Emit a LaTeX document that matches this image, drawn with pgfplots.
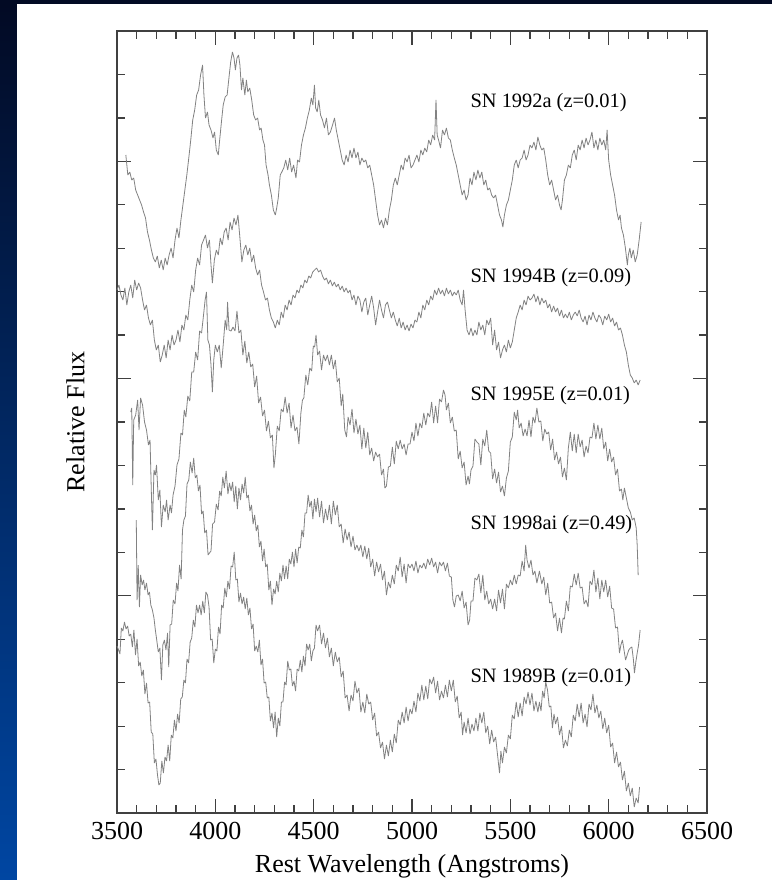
\documentclass[border=0pt]{standalone}
\usepackage{pgfplots}
\pgfplotsset{compat=1.18}
\usepackage{pgfplotstable}
\usepackage{fontspec}
\setmainfont{Liberation Serif}
\definecolor{navytop}{HTML}{020A24}
\definecolor{bluebot}{HTML}{0046A2}
\definecolor{speccol}{HTML}{828282}

\pgfplotstableread{
x y
3545 155
3555 175
3565 172
3575 180
3585 178
3595 190
3605 195
3615 200
3625 205
3635 212
3645 218
3655 232
3665 240
3675 250
3685 258
3695 262
3705 256
3715 268
3725 260
3735 270
3745 258
3755 265
3765 255
3775 248
3785 258
3795 240
3805 228
3815 238
3825 220
3835 205
3845 190
3855 175
3865 158
3875 140
3885 120
3895 110
3905 95
3915 90
3925 75
3935 65
3942 95
3950 118
3960 112
3968 125
3978 130
3988 138
3996 132
4005 150
4015 155
4022 140
4032 120
4040 105
4050 97
4060 95
4068 80
4078 62
4087 52
4095 58
4102 70
4110 58
4118 55
4125 65
4133 90
4140 78
4150 95
4158 80
4165 92
4175 88
4185 100
4195 115
4205 120
4215 118
4225 130
4233 128
4242 140
4250 145
4258 165
4268 175
4275 185
4285 195
4295 210
4305 215
4312 208
4320 198
4330 175
4338 172
4348 168
4358 160
4368 170
4378 158
4388 172
4398 165
4410 178
4418 160
4428 162
4438 145
4448 135
4458 128
4468 118
4478 110
4488 98
4496 105
4504 85
4510 108
4518 112
4526 100
4535 115
4545 120
4555 128
4565 118
4575 135
4585 132
4596 125
4606 118
4615 130
4625 140
4635 150
4645 160
4655 165
4665 155
4675 162
4685 150
4695 158
4705 148
4715 158
4725 152
4735 165
4745 158
4755 162
4765 160
4775 168
4785 165
4795 175
4805 185
4815 200
4825 215
4835 225
4845 220
4855 228
4865 218
4875 225
4885 210
4895 200
4905 185
4915 178
4925 185
4935 175
4945 165
4955 170
4965 158
4975 162
4985 155
4995 168
5005 165
5015 160
5025 155
5035 162
5045 150
5055 155
5065 148
5075 152
5085 140
5095 145
5105 135
5115 140
5122 100
5128 135
5135 140
5145 148
5155 130
5165 135
5175 128
5185 138
5195 140
5205 150
5215 158
5225 165
5235 175
5245 185
5255 195
5265 190
5275 200
5285 195
5295 178
5305 185
5315 172
5325 180
5335 170
5345 178
5355 172
5365 185
5375 180
5385 190
5395 188
5405 195
5415 198
5425 195
5435 205
5445 215
5455 220
5462 227
5470 215
5480 205
5490 200
5500 190
5510 180
5520 165
5530 160
5540 168
5550 160
5560 158
5570 150
5580 160
5590 155
5600 145
5610 148
5620 142
5630 150
5640 137
5650 145
5660 150
5670 148
5680 160
5690 175
5700 185
5710 180
5720 190
5730 200
5740 195
5750 205
5758 210
5765 200
5775 180
5785 175
5795 165
5805 168
5815 155
5825 150
5835 160
5845 145
5855 150
5865 140
5875 148
5885 138
5895 145
5905 140
5915 132
5925 148
5935 140
5945 150
5955 138
5965 145
5975 140
5985 150
5992 130
6000 160
6010 175
6020 185
6030 195
6040 210
6050 220
6058 215
6065 228
6075 235
6085 248
6095 265
6100 255
6108 248
6115 258
6125 250
6135 262
6145 255
6155 240
6165 222
}\snA

\pgfplotstableread{
x y
3500 290
3510 285
3520 295
3530 300
3540 288
3550 305
3560 292
3570 285
3580 298
3590 280
3600 290
3610 283
3620 288
3630 300
3640 310
3650 305
3660 318
3670 325
3680 320
3690 340
3700 350
3710 345
3720 362
3730 355
3740 345
3750 358
3760 340
3770 350
3780 335
3790 345
3800 340
3810 330
3820 342
3830 325
3840 330
3850 315
3860 320
3870 300
3880 285
3890 292
3900 270
3910 258
3920 265
3930 245
3940 240
3950 235
3960 248
3970 240
3978 265
3985 283
3995 260
4005 250
4015 255
4025 238
4035 245
4045 232
4055 228
4065 240
4075 222
4085 230
4095 218
4105 225
4115 215
4125 238
4135 262
4145 250
4155 245
4165 255
4175 248
4185 262
4195 255
4205 268
4215 275
4225 270
4235 285
4245 292
4255 300
4265 298
4275 310
4285 318
4295 322
4305 328
4315 320
4325 325
4335 312
4345 318
4355 305
4365 310
4375 300
4385 305
4395 295
4405 298
4415 290
4425 293
4435 285
4445 288
4455 280
4465 283
4475 276
4485 278
4495 272
4505 270
4515 268
4525 272
4535 270
4545 276
4555 280
4565 278
4575 284
4585 280
4595 286
4605 282
4615 287
4625 284
4635 290
4645 286
4655 292
4665 288
4675 293
4685 290
4695 300
4705 295
4715 305
4725 296
4735 300
4745 312
4755 302
4765 298
4775 315
4785 305
4795 296
4805 308
4815 325
4825 312
4835 300
4845 310
4855 318
4865 305
4875 302
4885 310
4895 318
4905 312
4915 320
4925 326
4935 318
4945 328
4955 322
4965 330
4975 325
4985 331
4995 324
5005 328
5015 320
5025 322
5035 312
5045 318
5055 305
5065 310
5075 300
5085 305
5095 296
5105 300
5115 290
5125 295
5135 288
5145 294
5155 290
5165 296
5175 288
5185 294
5195 290
5205 296
5215 292
5225 295
5235 290
5245 300
5255 305
5262 290
5270 310
5280 330
5290 335
5300 328
5310 336
5320 330
5330 335
5340 322
5350 330
5360 325
5370 335
5380 320
5390 325
5400 318
5410 345
5420 330
5430 350
5440 342
5450 358
5460 350
5470 345
5480 352
5490 340
5500 348
5510 342
5520 330
5530 318
5540 312
5550 305
5560 310
5570 300
5580 305
5590 296
5600 300
5610 298
5620 294
5630 302
5640 296
5650 305
5660 298
5670 303
5680 300
5690 308
5700 304
5710 312
5720 306
5730 312
5740 308
5750 316
5760 310
5770 318
5780 314
5790 318
5800 312
5810 320
5820 315
5830 312
5840 316
5850 310
5860 318
5870 322
5880 316
5890 325
5900 315
5910 320
5920 312
5930 318
5940 322
5950 315
5960 318
5970 325
5980 316
5990 320
6000 314
6010 322
6020 318
6030 326
6040 322
6050 330
6060 328
6070 335
6080 345
6090 352
6100 365
6110 375
6120 378
6130 383
6140 380
6150 385
6160 380
}\snB

\pgfplotstableread{
x y
3570 412
3575 408
3580 485
3585 420
3595 415
3605 400
3612 430
3620 398
3630 405
3640 422
3650 430
3660 445
3668 440
3675 495
3680 530
3688 470
3695 475
3701 465
3710 500
3718 490
3726 527
3735 505
3745 512
3752 500
3760 520
3770 505
3777 513
3785 495
3795 486
3805 465
3815 459
3825 433
3833 435
3842 410
3850 417
3860 396
3870 401
3880 372
3890 372
3900 352
3910 360
3920 331
3930 333
3940 315
3948 300
3955 292
3962 340
3970 345
3978 365
3985 392
3992 360
4000 345
4010 352
4020 345
4030 368
4040 345
4050 320
4058 330
4062 302
4070 330
4080 331
4090 327
4100 331
4110 311
4120 333
4130 330
4140 355
4150 341
4160 363
4170 352
4180 367
4190 364
4200 387
4210 376
4220 403
4230 397
4240 416
4250 410
4260 431
4270 421
4280 438
4290 435
4298 468
4305 455
4315 426
4325 431
4335 409
4345 412
4355 397
4365 413
4375 403
4385 428
4395 415
4405 431
4415 427
4425 444
4435 413
4443 400
4450 398
4460 375
4470 385
4480 368
4490 371
4498 346
4505 347
4512 335
4520 355
4530 351
4540 370
4550 355
4560 361
4570 355
4580 365
4590 355
4600 369
4610 360
4620 382
4630 378
4640 406
4648 394
4658 430
4667 437
4675 417
4685 425
4695 409
4705 433
4715 419
4725 434
4735 425
4745 449
4755 428
4765 448
4775 432
4785 455
4795 448
4805 461
4815 452
4825 457
4835 454
4845 475
4855 469
4862 488
4870 486
4880 467
4890 466
4900 447
4910 464
4920 441
4930 449
4940 440
4950 449
4960 444
4970 455
4980 444
4990 444
5000 432
5010 441
5020 423
5030 436
5040 423
5050 428
5060 413
5070 425
5080 413
5090 417
5100 402
5110 423
5120 406
5130 423
5140 399
5150 402
5160 390
5168 395
5175 410
5185 403
5195 423
5205 417
5215 431
5225 430
5235 459
5245 451
5255 468
5265 462
5275 485
5285 476
5292 484
5300 470
5310 466
5320 439
5330 442
5340 444
5350 465
5360 439
5370 446
5380 430
5390 451
5400 453
5410 479
5420 469
5430 483
5440 472
5450 492
5460 486
5470 496
5480 478
5490 471
5500 442
5510 437
5520 412
5530 420
5537 410
5545 428
5555 423
5565 436
5575 429
5585 436
5595 420
5605 437
5615 417
5625 423
5635 408
5645 422
5655 421
5665 441
5675 429
5685 434
5695 432
5705 450
5715 439
5725 460
5735 452
5745 464
5755 457
5765 477
5775 468
5785 480
5795 448
5805 432
5815 451
5825 434
5835 453
5845 434
5855 447
5865 440
5875 457
5885 446
5895 453
5905 437
5915 438
5925 423
5935 439
5945 425
5955 439
5965 428
5975 449
5985 442
5995 461
6005 449
6015 462
6025 457
6035 475
6045 469
6055 491
6065 489
6072 500
6080 488
6090 498
6100 508
6110 512
6120 520
6130 518
6140 528
6145 545
6150 575
}\snC

\pgfplotstableread{
x y
3598 520
3602 600
3608 565
3614 607
3620 575
3628 585
3635 580
3642 590
3650 583
3658 595
3665 592
3672 605
3680 610
3688 618
3695 630
3702 640
3710 652
3718 648
3726 680
3733 645
3741 640
3749 650
3757 633
3763 667
3770 625
3778 624
3786 600
3795 604
3803 583
3810 591
3818 565
3826 579
3833 530
3840 520
3848 516
3856 484
3865 480
3873 462
3882 473
3890 458
3898 478
3906 475
3914 491
3922 485
3930 514
3938 511
3946 533
3955 530
3963 555
3970 553
3978 551
3986 524
3996 522
4005 504
4014 510
4022 491
4030 496
4038 477
4046 488
4055 471
4064 494
4072 483
4080 491
4088 482
4096 502
4104 486
4112 509
4120 488
4128 500
4136 484
4144 493
4152 477
4160 498
4168 495
4176 511
4184 505
4192 524
4200 515
4208 531
4216 525
4224 547
4232 541
4240 561
4248 549
4256 567
4264 564
4272 590
4280 581
4288 605
4296 589
4304 594
4312 581
4320 592
4328 573
4336 581
4344 565
4352 579
4360 566
4368 579
4376 559
4384 564
4392 552
4400 567
4408 549
4416 563
4424 547
4432 548
4440 530
4448 537
4456 513
4464 513
4472 495
4480 507
4488 501
4496 519
4504 499
4512 512
4520 498
4530 517
4540 501
4550 523
4560 509
4570 520
4580 505
4590 524
4600 501
4610 515
4620 505
4630 527
4640 524
4650 543
4660 529
4670 540
4680 532
4690 547
4700 536
4710 550
4720 545
4730 551
4740 545
4750 557
4760 546
4770 559
4780 548
4790 567
4800 559
4810 576
4820 562
4830 572
4840 564
4850 580
4860 571
4870 595
4880 582
4890 588
4900 575
4910 584
4920 565
4930 571
4940 557
4950 577
4960 564
4970 583
4980 564
4990 568
5000 564
5010 571
5020 561
5030 573
5040 565
5050 568
5060 563
5070 569
5080 559
5090 565
5100 558
5110 567
5120 562
5130 573
5140 562
5150 566
5160 562
5170 571
5180 563
5190 576
5200 577
5208 600
5216 607
5225 596
5235 595
5245 601
5255 591
5265 608
5275 602
5285 625
5293 620
5300 601
5310 601
5320 578
5330 580
5340 574
5350 593
5360 575
5370 600
5380 591
5390 604
5400 599
5410 609
5420 599
5430 611
5440 590
5450 603
5460 589
5470 609
5480 584
5490 588
5500 580
5510 585
5520 575
5530 584
5540 575
5550 576
5560 561
5570 571
5578 545
5585 560
5595 568
5605 560
5615 575
5625 571
5635 583
5648 571
5660 584
5670 577
5680 595
5690 583
5700 603
5710 602
5720 618
5730 613
5740 631
5750 618
5760 633
5768 618
5775 619
5785 601
5795 611
5805 586
5815 587
5825 574
5835 585
5845 573
5855 588
5865 587
5875 604
5885 600
5895 607
5905 581
5915 585
5925 570
5935 592
5945 578
5955 599
5965 580
5975 592
5985 580
5995 597
6005 586
6015 608
6025 609
6035 628
6045 627
6055 653
6062 645
6070 640
6078 650
6086 660
6094 655
6102 650
6110 648
6118 647
6126 660
6131 673
6138 662
6145 653
6152 645
6160 630
}\snD

\pgfplotstableread{
x y
3500 646
3508 650
3515 654
3522 628
3530 631
3538 622
3546 629
3554 626
3562 636
3570 634
3578 647
3586 630
3594 655
3602 639
3610 666
3618 662
3626 676
3634 670
3642 694
3650 683
3658 703
3666 702
3674 732
3682 734
3690 763
3698 759
3706 775
3713 785
3720 783
3728 761
3736 773
3744 757
3752 761
3760 745
3768 761
3776 735
3784 738
3792 720
3800 731
3808 714
3816 723
3824 699
3832 697
3840 680
3848 683
3856 659
3864 663
3872 642
3880 638
3888 620
3896 627
3904 605
3912 613
3920 605
3928 615
3936 601
3944 613
3952 592
3960 595
3968 607
3976 640
3984 639
3992 663
4000 649
4008 651
4016 627
4024 634
4032 605
4040 608
4048 588
4056 597
4064 581
4072 589
4080 566
4088 567
4096 552
4104 580
4112 579
4120 602
4128 593
4136 604
4144 597
4152 609
4160 598
4168 615
4176 608
4184 629
4192 624
4200 651
4208 646
4216 652
4224 640
4232 665
4240 659
4248 683
4256 682
4264 698
4272 697
4280 721
4288 713
4296 728
4304 712
4312 737
4320 718
4328 726
4336 702
4344 702
4352 682
4360 685
4368 661
4376 670
4384 669
4392 686
4400 681
4408 691
4416 669
4424 671
4432 660
4440 672
4448 656
4456 666
4464 644
4472 650
4480 644
4488 661
4496 651
4504 648
4512 625
4520 631
4530 625
4540 644
4550 633
4560 648
4570 638
4580 657
4590 648
4600 666
4610 652
4620 662
4630 657
4640 677
4650 671
4660 698
4670 695
4680 711
4690 695
4700 701
4710 681
4720 693
4730 688
4740 712
4750 702
4760 713
4770 694
4780 704
4790 702
4800 720
4810 713
4820 736
4830 732
4840 748
4850 742
4860 759
4870 745
4880 756
4890 740
4900 752
4910 734
4920 743
4930 720
4940 725
4950 712
4960 723
4970 707
4980 721
4990 709
5000 714
5010 701
5020 712
5030 693
5040 701
5050 685
5060 700
5070 686
5080 699
5090 679
5100 684
5110 677
5120 693
5130 681
5140 700
5150 691
5160 698
5170 685
5180 697
5190 680
5200 691
5210 680
5220 702
5230 696
5240 718
5250 712
5257 735
5265 722
5275 733
5285 718
5295 734
5305 724
5315 731
5325 718
5335 731
5345 713
5355 723
5365 712
5375 733
5385 726
5395 744
5405 730
5415 742
5425 737
5435 755
5445 773
5452 751
5460 763
5470 747
5480 753
5490 735
5500 739
5510 715
5520 719
5530 702
5540 717
5550 703
5560 716
5570 697
5580 704
5590 692
5600 705
5610 693
5620 711
5630 701
5640 712
5648 702
5656 711
5664 691
5672 698
5680 682
5689 690
5698 707
5706 706
5714 728
5722 714
5730 724
5740 717
5750 735
5760 726
5770 748
5780 740
5790 746
5800 730
5810 737
5820 715
5830 721
5840 704
5850 717
5860 703
5870 723
5880 714
5890 727
5900 704
5910 710
5920 694
5930 713
5940 705
5950 718
5960 711
5970 729
5980 718
5990 733
6000 725
6010 747
6020 743
6030 763
6040 752
6050 767
6060 762
6070 780
6080 771
6090 791
6100 783
6110 796
6120 788
6130 807
6140 798
6150 803
6157 787
}\snE

\begin{document}
\begin{tikzpicture}
\path[use as bounding box] (0pt,0pt) rectangle (772pt,-880pt);
\fill[navytop] (0pt,0pt) rectangle (772pt,-880pt);
\shade[top color=navytop, bottom color=bluebot] (0pt,-4pt) rectangle (17pt,-880pt);
\fill[white] (17pt,-4pt) rectangle (772pt,-880pt);
\begin{axis}[
  at={(412pt,-422pt)}, anchor=center,
  scale only axis, width=590pt, height=782pt,
  xmin=3500, xmax=6500, ymin=31, ymax=813, y dir=reverse,
  xtick={3500,4000,...,6500}, minor x tick num=4,
  ytick={161.3,378.6,595.8},
  minor ytick={74.4,117.9,204.8,248.2,291.7,335.1,422.0,465.5,508.9,552.4,639.3,682.7,726.2,769.6},
  yticklabels={},
  tick align=inside,
  xtick pos=both, ytick pos=both,
  major tick length=14pt, minor tick length=8pt,
  axis line style={black!75, line width=1.3pt},
  every tick/.style={black!75, line width=1.3pt},
  /pgf/number format/1000 sep={},
  /pgf/number format/assume math mode=true,
  ticklabel style={font=\fontsize{26}{30}\selectfont},
  xticklabel style={yshift=-6pt},
  xlabel={Rest Wavelength (Angstroms)},
  ylabel={Relative Flux},
  label style={font=\fontsize{26}{30}\selectfont},
  xlabel style={yshift=-7pt},
  ylabel style={yshift=22pt},
  clip=false,
]
\addplot[speccol, line width=0.8pt, line join=bevel] table {\snA};
\addplot[speccol, line width=0.8pt, line join=bevel] table {\snB};
\addplot[speccol, line width=0.8pt, line join=bevel] table {\snC};
\addplot[speccol, line width=0.8pt, line join=bevel] table {\snD};
\addplot[speccol, line width=0.8pt, line join=bevel] table {\snE};
\node[anchor=west, inner sep=0pt, font=\fontsize{20.4}{24}\selectfont] at (axis cs:5297,103) {SN 1992a (z=0.01)};
\node[anchor=west, inner sep=0pt, font=\fontsize{20.4}{24}\selectfont] at (axis cs:5297,278) {SN 1994B (z=0.09)};
\node[anchor=west, inner sep=0pt, font=\fontsize{20.4}{24}\selectfont] at (axis cs:5297,396) {SN 1995E (z=0.01)};
\node[anchor=west, inner sep=0pt, font=\fontsize{20.4}{24}\selectfont] at (axis cs:5297,525) {SN 1998ai (z=0.49)};
\node[anchor=west, inner sep=0pt, font=\fontsize{20.4}{24}\selectfont] at (axis cs:5297,678) {SN 1989B (z=0.01)};
\end{axis}
\end{tikzpicture}
\end{document}
